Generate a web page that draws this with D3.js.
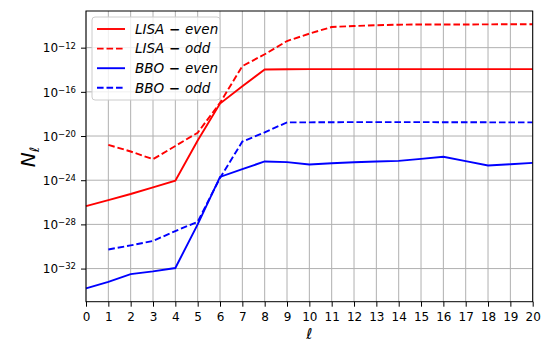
<!DOCTYPE html>
<html>
<head>
<meta charset="utf-8">
<script src="https://cdn.jsdelivr.net/npm/d3@7"></script>
<style>
body { margin: 0; background: #fff; }
svg text { font-family: "DejaVu Sans", sans-serif; }
</style>
</head>
<body>
<div id="chart"></div>
<script>
const ells = d3.range(0, 21)
// log10 of N_ell
const lisaEven = [-26.34, -25.8, -25.25, -24.65, -24.04, -20.4, -17.06, -15.5, -13.97, -13.95, -13.94, -13.94, -13.94, -13.94, -13.94, -13.94, -13.94, -13.94, -13.94, -13.94, -13.94]
const lisaOdd = [null, -20.8, -21.4, -22.1, -20.9, -19.7, -17.0, -13.67, -12.6, -11.4, -10.73, -10.13, -10.04, -9.97, -9.92, -9.9, -9.9, -9.9, -9.89, -9.88, -9.88]
const bboEven = [-33.79, -33.2, -32.5, -32.25, -31.95, -28.0, -23.7, -23.0, -22.3, -22.36, -22.58, -22.47, -22.37, -22.3, -22.25, -22.07, -21.88, -22.27, -22.67, -22.55, -22.43]
const bboOdd = [null, -30.27, -29.9, -29.5, -28.6, -27.76, -23.8, -20.5, -19.67, -18.76, -18.76, -18.75, -18.74, -18.74, -18.74, -18.74, -18.75, -18.75, -18.76, -18.76, -18.76]
const yTicks = [-32, -28, -24, -20, -16, -12]

const series = [
    { name: "LISA", kind: "even", values: lisaEven, color: "#ff0000", dash: null },
    { name: "LISA", kind: "odd", values: lisaOdd, color: "#ff0000", dash: "6.6,2.9" },
    { name: "BBO", kind: "even", values: bboEven, color: "#0000ff", dash: null },
    { name: "BBO", kind: "odd", values: bboOdd, color: "#0000ff", dash: "6.6,2.9" }
]

const width = 546
const height = 343
const margin = { top: 11, right: 13.3, bottom: 41.3, left: 86 }
const w = width - margin.left - margin.right
const h = height - margin.top - margin.bottom

const svg = d3.select("div#chart").append("svg")
    .attr("width", width)
    .attr("height", height)
const g = svg.append("g")
    .attr("transform", `translate(${margin.left}, ${margin.top})`)

const x = d3.scaleLinear().domain([0, 20]).range([0, w])
const y = d3.scaleLinear().domain([-35.0, -8.68]).range([h, 0])

// grid
g.append("g").selectAll("line.vg")
    .data(ells).enter().append("line")
    .attr("x1", d => x(d)).attr("x2", d => x(d))
    .attr("y1", 0).attr("y2", h)
    .attr("stroke", "#b0b0b0").attr("stroke-width", 1)
g.append("g").selectAll("line.hg")
    .data(yTicks).enter().append("line")
    .attr("x1", 0).attr("x2", w)
    .attr("y1", d => y(d)).attr("y2", d => y(d))
    .attr("stroke", "#b0b0b0").attr("stroke-width", 1)

// lines
const line = d3.line()
    .defined(d => d.v !== null)
    .x(d => x(d.l)).y(d => y(d.v))

series.forEach(s => {
    g.append("path")
        .datum(s.values.map((v, i) => ({ l: ells[i], v: v })))
        .attr("fill", "none")
        .attr("stroke", s.color)
        .attr("stroke-width", 1.9)
        .attr("stroke-dasharray", s.dash)
        .attr("d", line)
})

// axes
const xAxis = d3.axisBottom(x).tickValues(ells).tickSize(5).tickPadding(5.5).tickFormat(d3.format("d"))
const xg = g.append("g").attr("transform", `translate(0, ${h})`).call(xAxis)
xg.selectAll("text").attr("font-size", 12).attr("fill", "#000").style("font-family", "DejaVu Sans")

const yAxis = d3.axisLeft(y).tickValues(yTicks).tickSize(5).tickFormat("")
const yg = g.append("g").call(yAxis)
yg.selectAll(".tick").append("text")
    .attr("x", -10)
    .attr("dy", "0.35em")
    .attr("text-anchor", "end")
    .attr("fill", "#000")
    .attr("font-size", 12)
    .style("font-family", "DejaVu Sans")
    .each(function(d) {
        const t = d3.select(this)
        t.append("tspan").text("10")
        t.append("tspan").attr("dy", "-0.45em").attr("font-size", 8.5).text("\u2212" + Math.abs(d))
    })

;[xg, yg].forEach(a => {
    a.select(".domain").remove()
    a.selectAll(".tick line").attr("stroke", "#000").attr("stroke-width", 1)
})

// frame
g.append("rect")
    .attr("width", w).attr("height", h)
    .attr("fill", "none").attr("stroke", "#000").attr("stroke-width", 1)

// labels
svg.append("text")
    .attr("transform", `translate(35, 157) rotate(-90)`)
    .attr("text-anchor", "middle")
    .attr("font-size", 20)
    .attr("font-style", "italic")
    .text("N")
    .append("tspan").attr("font-size", 13).attr("dy", "0.3em").text("\u2113")
svg.append("text")
    .attr("x", margin.left + w / 2)
    .attr("y", 339)
    .attr("text-anchor", "middle")
    .attr("font-size", 15)
    .attr("font-style", "italic")
    .text("\u2113")

// legend
const legend = svg.append("g").attr("transform", "translate(92, 17)")
legend.append("rect")
    .attr("width", 128).attr("height", 83).attr("rx", 3)
    .attr("fill", "#fff").attr("fill-opacity", 0.8)
    .attr("stroke", "#cccccc").attr("stroke-width", 1)
const item = legend.selectAll("g.item")
    .data(series).enter().append("g")
    .attr("transform", (d, i) => `translate(0, ${12 + i * 19.6})`)
item.append("line")
    .attr("x1", 5).attr("x2", 33)
    .attr("stroke", d => d.color).attr("stroke-width", 1.9)
    .attr("stroke-dasharray", d => d.dash)
const lt = item.append("text")
    .attr("x", 43).attr("dy", "0.35em")
    .attr("font-size", 13.5)
lt.append("tspan").attr("font-style", "italic").text(d => d.name)
lt.append("tspan").attr("font-weight", "bold").text(" \u2212 ")
lt.append("tspan").attr("font-style", "italic").text(d => d.kind)
</script>
</body>
</html>
